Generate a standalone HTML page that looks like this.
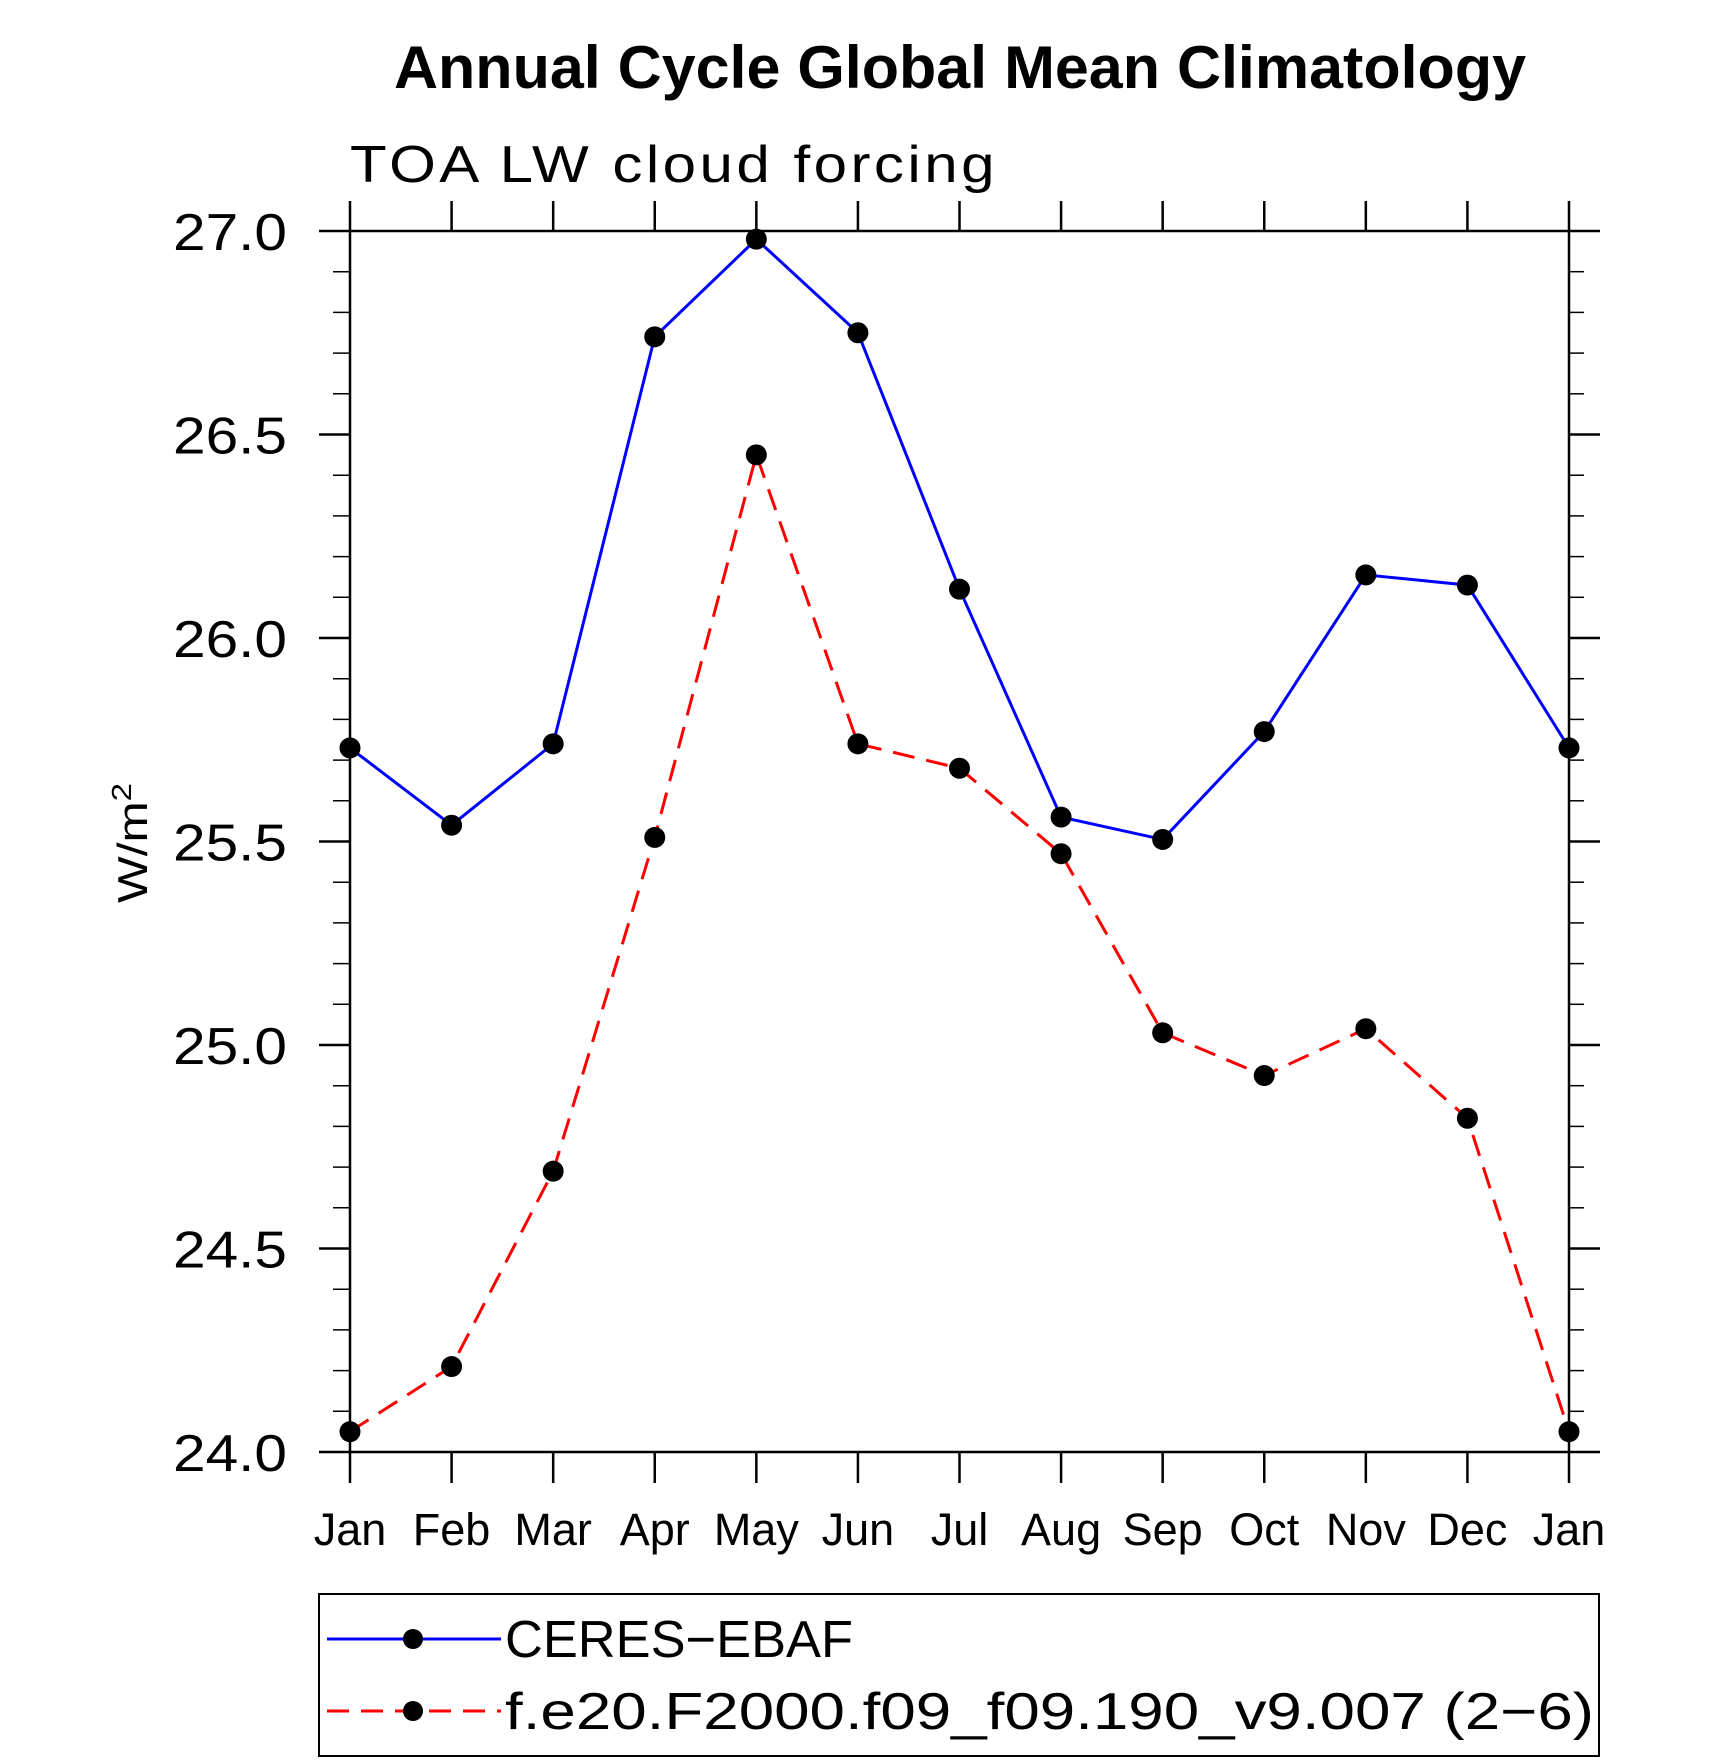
<!DOCTYPE html>
<html><head><meta charset="utf-8"><style>
html,body{margin:0;padding:0;background:#fff;}
svg{display:block;}
text{font-family:"Liberation Sans","DejaVu Sans",sans-serif;}
</style></head><body>
<svg id="chart" width="1710" height="1762" viewBox="0 0 1710 1762" xmlns="http://www.w3.org/2000/svg">
<text x="960" y="88" text-anchor="middle" font-size="60" font-weight="bold" textLength="1132" lengthAdjust="spacingAndGlyphs">Annual Cycle Global Mean Climatology</text>
<text x="350" y="182" font-size="52" font-weight="300" letter-spacing="3" textLength="648" lengthAdjust="spacingAndGlyphs">TOA LW cloud forcing</text>
<text transform="translate(147,843) rotate(-90)" text-anchor="middle" font-size="42" font-weight="300" textLength="120" lengthAdjust="spacingAndGlyphs">W/m<tspan font-size="28" dy="-16">2</tspan></text>
<g id="axes"></g>
<g id="series"></g>
<rect x="319" y="1594" width="1280" height="162" fill="none" stroke="#000" stroke-width="2"/>
<g>
<line x1="327" y1="1639" x2="501" y2="1639" stroke="#0000ff" stroke-width="3"/>
<circle cx="413" cy="1639" r="10"/>
<text x="505" y="1657" font-size="52" font-weight="300" textLength="348" lengthAdjust="spacingAndGlyphs">CERES−EBAF</text>
</g>
<g>
<line x1="327" y1="1711" x2="501" y2="1711" stroke="#ff0000" stroke-width="3" stroke-dasharray="22,12"/>
<circle cx="413" cy="1711" r="10"/>
<text x="505" y="1729" font-size="52" font-weight="300" textLength="1089" lengthAdjust="spacingAndGlyphs">f.e20.F2000.f09_f09.190_v9.007 (2−6)</text>
</g>
</svg>
<script>
const months = ["Jan","Feb","Mar","Apr","May","Jun","Jul","Aug","Sep","Oct","Nov","Dec","Jan"];
const ceres = [25.73,25.54,25.74,26.74,26.98,26.75,26.12,25.56,25.505,25.77,26.155,26.13,25.73];
const model = [24.05,24.21,24.69,25.51,26.45,25.74,25.68,25.47,25.03,24.925,25.04,24.82,24.05];
const yTicks = ["24.0","24.5","25.0","25.5","26.0","26.5","27.0"];

const L=350,R=1569,T=231,B=1452,yMin=24,yMax=27;
const NS="http://www.w3.org/2000/svg";
const xs=i=>L+(R-L)*i/(months.length-1);
const ys=v=>B-(B-T)*(v-yMin)/(yMax-yMin);
function mk(tag,attrs,parent){const e=document.createElementNS(NS,tag);for(const k in attrs)e.setAttribute(k,attrs[k]);parent.appendChild(e);return e;}
const axes=document.getElementById('axes');
const frame=mk('rect',{x:L,y:T,width:R-L,height:B-T,fill:'none',stroke:'#000','stroke-width':2.5},axes);


months.forEach((m,i)=>{
  const x=xs(i);
  mk('line',{x1:x,y1:B,x2:x,y2:B+31,stroke:'#000','stroke-width':2.5},axes);
  mk('line',{x1:x,y1:T,x2:x,y2:T-30,stroke:'#000','stroke-width':2.5},axes);
  const t=mk('text',{x:x,y:1545,'text-anchor':'middle','font-size':45,'font-weight':300},axes);
  t.textContent=m;
  
  
});
for(let k=0;k<=30;k++){
  const v=yMin+k*0.1,y=ys(v),maj=k%5===0;
  mk('line',{x1:L-(maj?31:17),y1:y,x2:L,y2:y,stroke:'#000','stroke-width':maj?2.5:1.5},axes);
  mk('line',{x1:R,y1:y,x2:R+(maj?31:15),y2:y,stroke:'#000','stroke-width':maj?2.5:1.5},axes);
}
yTicks.forEach(s=>{
  const t=mk('text',{x:287,y:ys(parseFloat(s))+19,'text-anchor':'end','font-size':52,'font-weight':300,textLength:114,lengthAdjust:'spacingAndGlyphs'},axes);
  t.textContent=s;
  
  
});
const g=document.getElementById('series');
function draw(vals,color,dash,name){
  const p=mk('polyline',{points:vals.map((v,i)=>xs(i)+','+ys(v)).join(' '),fill:'none',stroke:color,'stroke-width':3},g);
  if(dash)p.setAttribute('stroke-dasharray',dash);
  
  
  vals.forEach((v,i)=>{
    const c=mk('circle',{cx:xs(i),cy:ys(v),r:10.5,fill:'#000'},g);
    
    
  });
}
draw(model,'#ff0000','22,12','model');
draw(ceres,'#0000ff',null,'ceres');
</script>
</body></html>
